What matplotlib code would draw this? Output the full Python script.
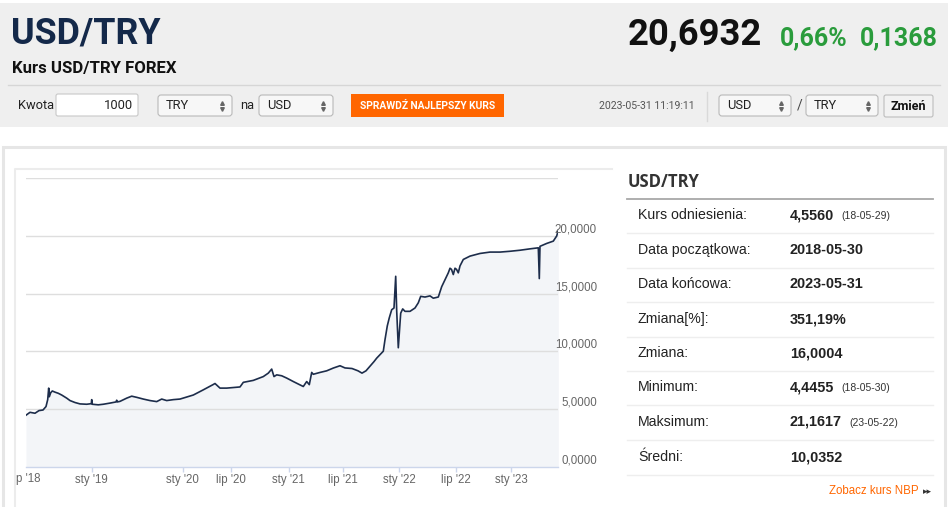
import matplotlib
matplotlib.use('Agg')
import matplotlib.pyplot as plt
from matplotlib.patches import Rectangle, FancyBboxPatch

################## DATA ####################

# position along the chart (trading-session index, 0 = 2018-05-30) and USD/TRY rate
pos = [0, 4, 9, 13, 17, 20, 21.7, 22.7, 23.3, 24.7, 26.3, 29, 32.3, 35.7, 40.7, 44, 49, 54,
       60.7, 65.3, 65.7, 66.3, 72.3, 77.3, 84, 90, 90.7, 91.3, 94, 100.7, 105.7, 110.7, 117.3,
       124, 130.7, 135.7, 140.7, 147.3, 154, 167.3, 177.3, 187, 189, 194, 200.7, 214, 217.3,
       227.3, 237.3, 242.3, 245.7, 248, 250.7, 255.7, 260.7, 267.3, 274, 277.3, 280.7, 283.3,
       285.7, 287.3, 294, 300.7, 307.3, 314, 319, 326, 332, 336, 340, 344, 348, 350.7, 354,
       357.3, 359, 361.3, 363.3, 365.7, 368, 369.7, 370.7, 372.3, 374.7, 376.7, 379, 384, 389,
       392.3, 394.7, 399, 404, 407.3, 412.3, 415.7, 419, 422.3, 424, 425.5, 427.3, 429, 430.5,
       432.3, 434, 437.3, 444, 454, 464, 474, 484, 494, 504, 512.3, 513.3, 514, 520.7, 527.3,
       530.7, 532.3]
rate = [4.45, 4.70, 4.62, 4.85, 4.90, 5.20, 5.80, 6.80, 6.05, 6.40, 6.55, 6.45, 6.35, 6.20,
        5.93, 5.72, 5.55, 5.43, 5.40, 5.45, 5.80, 5.40, 5.35, 5.40, 5.50, 5.60, 5.75, 5.60,
        5.65, 5.93, 6.10, 6.00, 5.85, 5.72, 5.63, 5.85, 5.72, 5.80, 5.85, 6.20, 6.65, 7.10,
        7.20, 6.80, 6.80, 6.90, 7.30, 7.47, 7.80, 8.10, 8.45, 7.80, 7.95, 7.87, 7.67, 7.37,
        7.08, 6.94, 7.37, 7.10, 8.16, 8.00, 8.16, 8.30, 8.54, 8.74, 8.55, 8.50, 8.30, 8.10,
        8.30, 8.70, 9.10, 9.40, 9.70, 10.00, 11.00, 12.20, 12.90, 13.60, 13.75, 16.50, 13.50,
        10.30, 13.30, 13.67, 13.46, 13.46, 13.75, 14.20, 14.76, 14.70, 14.80, 14.60, 14.70,
        15.60, 16.20, 16.80, 17.20, 17.10, 16.65, 17.20, 17.10, 16.80, 17.40, 17.96, 18.25,
        18.48, 18.60, 18.60, 18.67, 18.76, 18.88, 18.97, 16.30, 19.10, 19.35, 19.55, 20.00,
        20.50]

tick_pos = [65.7, 156.7, 205.3, 262.7, 317.3, 373.3, 429.7, 485.3]
tick_labels = ["sty '19", "sty '20", "lip '20", "sty '21", "lip '21", "sty '22", "lip '22", "sty '23"]
grid_levels = [5, 10, 15, 20, 25]
ytick_levels = [0, 5, 10, 15, 20]

stat_labels = ['Kurs odniesienia:', 'Data początkowa:', 'Data końcowa:', 'Zmiana[%]:',
               'Zmiana:', 'Minimum:', 'Maksimum:', 'Średni:']
stat_values = ['4,5560', '2018-05-30', '2023-05-31', '351,19%', '16,0004', '4,4455',
               '21,1617', '10,0352']
stat_dates = ['(18-05-29)', '', '', '', '', '(18-05-30)', '(23-05-22)', '']

NARROW = ['Roboto', 'DejaVu Sans']
ARIAL = ['Liberation Sans', 'DejaVu Sans']
ORANGE = '#ff6600'
GREEN = '#2a9c3c'

W, H = 948, 507
fig = plt.figure(figsize=(W / 100, H / 100), dpi=100)

################## PAGE (header, controls, panel) ####################

page = fig.add_axes([0, 0, 1, 1], zorder=0)
page.set_xlim(0, W)
page.set_ylim(H, 0)
page.axis('off')

page.add_patch(Rectangle((0, 3), W, 124, color='#efefef', lw=0))
page.text(11, 33, 'USD/TRY', family=NARROW, fontsize=25.8, fontweight='bold',
          color='#14294a', va='center', ha='left')
page.text(12, 69, 'Kurs USD/TRY FOREX', family=NARROW, fontsize=12.1, fontweight='bold',
          color='#111111', va='center', ha='left')
page.text(762, 35, '20,6932', family=NARROW, fontsize=26.2, fontweight='bold',
          color='#111111', va='center', ha='right')
page.text(780, 38, '0,66%', family=NARROW, fontsize=18, fontweight='bold',
          color=GREEN, va='center', ha='left')
page.text(938, 38, '0,1368', family=NARROW, fontsize=18, fontweight='bold',
          color=GREEN, va='center', ha='right')
page.plot([8, 940], [85, 85], color='#d6d6d6', lw=1)


def select_box(x0, x1, label):
    page.add_patch(FancyBboxPatch((x0, 95), x1 - x0, 21, boxstyle='round,pad=0,rounding_size=3',
                                  fc='#f7f7f7', ec='#b9b9b9', lw=0.8))
    page.text(x0 + 8, 105.5, label, family=NARROW, fontsize=9.3, color='#222222',
              va='center', ha='left')
    page.plot([x1 - 10], [103], marker='^', ms=2.6, color='#666666')
    page.plot([x1 - 10], [108.5], marker='v', ms=2.6, color='#666666')


page.text(18, 105.5, 'Kwota', family=NARROW, fontsize=9.3, color='#222222', va='center')
page.add_patch(FancyBboxPatch((56, 94), 82, 22, boxstyle='round,pad=0,rounding_size=2',
                              fc='white', ec='#c8c8c8', lw=0.8))
page.text(133, 105.5, '1000', family=NARROW, fontsize=9.3, color='#222222', va='center', ha='right')
select_box(158, 232, 'TRY')
page.text(240, 105.5, 'na', family=NARROW, fontsize=9.3, color='#222222', va='center')
select_box(259, 333, 'USD')
page.add_patch(Rectangle((351, 94), 153, 23, color=ORANGE, lw=0))
page.text(427.5, 105.5, 'SPRAWDŹ NAJLEPSZY KURS', family=NARROW, fontsize=7.4,
          fontweight='bold', color='white', va='center', ha='center')
page.text(695, 106, '2023-05-31 11:19:11', family=NARROW, fontsize=7.6, color='#555555',
          va='center', ha='right')
page.plot([707, 707], [92, 121], color='#d9d9d9', lw=1)
select_box(719, 791, 'USD')
page.text(797, 106, '/', family=NARROW, fontsize=10, color='#444444', va='center')
select_box(806, 878, 'TRY')
page.add_patch(FancyBboxPatch((884, 95), 49, 22, boxstyle='round,pad=0,rounding_size=2',
                              fc='#f2f2f2', ec='#bdbdbd', lw=0.8))
page.text(908.5, 106, 'Zmień', family=NARROW, fontsize=9, fontweight='bold',
          color='#111111', va='center', ha='center')

# panel frames
page.add_patch(Rectangle((3, 147), 942, 370, fc='white', ec='#e6e6e6', lw=2.2))
page.plot([15, 15, 612], [520, 169, 169], color='#ececec', lw=1.5)

# statistics table
page.text(628, 182, 'USD/TRY', family=['Open Sans', 'DejaVu Sans'], fontsize=12,
          fontweight='bold', color='#333333', va='center', ha='left')
page.plot([627, 933], [198.5, 198.5], color='#a8a8a8', lw=1.3)
row_y = [215, 250, 284, 319, 353, 387, 422, 457]
date_x = [841, 0, 0, 0, 0, 841, 849, 0]
for i, (lab, val, dt) in enumerate(zip(stat_labels, stat_values, stat_dates)):
    y = row_y[i]
    page.text(638, y, lab, family=ARIAL, fontsize=10.2, color='#222222', va='center')
    page.text(790, y, val, family=ARIAL, fontsize=10.4, fontweight='bold',
              color='#222222', va='center')
    if dt:
        page.text(date_x[i], y + 1, dt, family=ARIAL, fontsize=7.5, color='#333333', va='center')
    page.plot([627, 933], [y + 18, y + 18], color='#eeeeee', lw=1)

page.text(919, 491, 'Zobacz kurs NBP', family=ARIAL, fontsize=8.3, color=ORANGE,
          va='center', ha='right')
page.text(922.5, 492, '▸▸', family=['DejaVu Sans'], fontsize=6.5, color='#333333',
          va='center', ha='left')

################## CHART ####################

x0, x1 = 26, 558.3
yb, yt = 466.5, 178.3
ax = fig.add_axes([x0 / W, 1 - yb / H, (x1 - x0) / W, (yb - yt) / H], zorder=1)
ax.patch.set_alpha(0)
ax.set_xlim(0, x1 - x0)
ax.set_ylim(0, 25)

ax.fill_between(pos, rate, 0, color='#f3f5f8', lw=0, zorder=1)
for g in grid_levels:
    ax.axhline(g, color='#dedede', lw=1, zorder=2)
ax.plot(pos, rate, color='#1d2d4b', lw=1.2, zorder=3)

for s in ['top', 'right', 'left']:
    ax.spines[s].set_visible(False)
ax.spines['bottom'].set_color('#ccd6eb')
ax.spines['bottom'].set_linewidth(1)
ax.set_yticks([])
ax.set_xticks(tick_pos)
ax.set_xticklabels(tick_labels, family=ARIAL)
ax.tick_params(axis='x', length=3.6, width=1, color='#ccd6eb', labelcolor='#666666',
               labelsize=8.3, pad=1.5)

# y labels sit on the right, just above each gridline
lab_x = (597 - x0) / (x1 - x0)
for v in ytick_levels:
    ax.annotate(f'{v},0000', xy=(lab_x, v), xycoords=ax.get_yaxis_transform(),
                xytext=(0, 4.6), textcoords='offset points', ha='right', va='center',
                family=ARIAL, fontsize=8.3, color='#666666', annotation_clip=False)

# first month label is cut off at the panel edge
page.text(16.5, 479, "p '18", family=ARIAL, fontsize=8.3, color='#666666', va='center', ha='left')

fig.savefig('out.png', dpi=100)
